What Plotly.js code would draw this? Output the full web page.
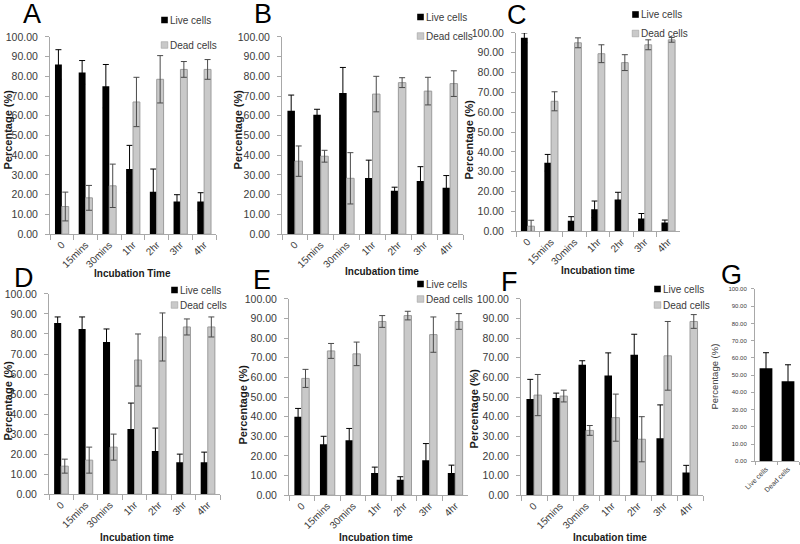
<!DOCTYPE html>
<html><head><meta charset="utf-8">
<script src="https://cdn.plot.ly/plotly-3.0.1.min.js"></script>
<style>html,body{margin:0;padding:0;background:#fff}#chart{width:800px;height:544px}</style>
</head><body><div id="chart"></div>
<script>
// ---------- DATA ----------
const timeLabels = ['0', '15mins', '30mins', '1hr', '2hr', '3hr', '4hr'];
const seriesNames = ['Live cells', 'Dead cells'];

const liveA = [86, 82, 75, 33, 21.5, 16.5, 16.5];
const liveErrA = [7.5, 6, 11, 12, 11.5, 3.5, 4.5];
const deadA = [14, 18.4, 24.5, 67, 78.5, 83.5, 83.5];
const deadErrA = [7.3, 6.3, 11, 12.5, 12, 4, 5];

const liveB = [62.5, 60.5, 71.5, 28.5, 22, 27, 23.5];
const liveErrB = [8, 2.8, 13, 9, 1.8, 7.2, 6.2];
const deadB = [37, 39.5, 28.3, 71, 76.8, 72.5, 76.3];
const deadErrB = [7.7, 3, 13, 9, 2.5, 7, 6.5];

const liveC = [97.5, 34.5, 5.3, 11, 16, 6.4, 4.4];
const liveErrC = [2.5, 4.2, 2, 4.2, 3.6, 2.5, 1.2];
const deadC = [2.5, 65.5, 95, 89.5, 85, 94, 96.5];
const deadErrC = [3, 4.8, 2.5, 4.5, 4, 2.5, 1.2];

const liveD = [85.5, 82.5, 76, 32.5, 21.5, 16, 16];
const liveErrD = [3, 6, 6.5, 13, 11.5, 4, 5];
const deadD = [14, 17, 23.5, 67, 78.5, 83.5, 83.5];
const deadErrD = [3.5, 6.5, 6.5, 13, 12, 4, 5];

const liveE = [40, 26, 28, 11.3, 7.8, 17.8, 11.3];
const liveErrE = [4.2, 4, 6, 3, 1.6, 8.5, 4];
const deadE = [59.5, 73.5, 72, 88.5, 91.5, 81.8, 88.5];
const deadErrE = [4.6, 3.8, 6, 3, 2.2, 9, 4];

const liveF = [49, 49.5, 66.5, 61, 71.5, 29, 11.5];
const liveErrF = [10, 2.5, 2, 11.5, 10.5, 17, 3.7];
const deadF = [51, 50.5, 33, 39.5, 28.5, 71, 88.5];
const deadErrF = [10.5, 3, 2.5, 12, 11.5, 17.5, 3.5];

const gLabels = ['Live cells', 'Dead cells'];
const gValues = [54, 46.5];
const gErrors = [9, 9.5];

const panelLetters = ['A', 'B', 'C', 'D', 'E', 'F', 'G'];
const xTitles = ['Incubation Time', 'Incubation time', 'Incubation time', 'Incubation time', 'Incubation time', 'Incubation time'];
const yTitle = 'Percentage (%)';

// ---------- STYLE / GEOMETRY ----------
const W = 800, H = 544;
const FONT = 'Liberation Sans, Arial, sans-serif';
const AXIS_COLOR = '#a8a8a8';
const TEXT_COLOR = '#3a3a3a';
const TITLE_COLOR = '#1a1a1a';
const LIVE_COLOR = '#000000';
const DEAD_COLOR = '#c9c9c9';
const DEAD_EDGE = '#9c9c9c';
const DEAD_ERR = '#4a4a4a';

// plot-area boxes in px: [left, right, top(=100), bottom(=0)]
const boxes = [
  [50, 216, 35, 233],
  [282, 463, 35, 233],
  [516, 680, 31, 230],
  [49, 220, 293, 494],
  [289, 468, 298, 495],
  [521, 703, 298, 495],
  [755, 799, 288, 461]
];
// legend: [text-left px, first-row center px, row gap px]
const legendPos = [
  [170, 18, 25], [426, 15, 19], [641, 12, 19],
  [180, 289, 15], [426, 283, 15], [663, 288, 16]
];
const letterPos = [[32, 12], [263, 12], [517, 13], [24, 277], [262, 279], [510, 281], [731, 274]];
const yTitlePos = [[8, 128], [238, 128], [469, 138], [8, 400], [243, 404], [473, 408], [715, 376]];
const xTitlePos = [[132, 272], [382, 270], [598, 269], [137, 537], [376, 537], [610, 537]];

const panels = [
  [liveA, liveErrA, deadA, deadErrA],
  [liveB, liveErrB, deadB, deadErrB],
  [liveC, liveErrC, deadC, deadErrC],
  [liveD, liveErrD, deadD, deadErrD],
  [liveE, liveErrE, deadE, deadErrE],
  [liveF, liveErrF, deadF, deadErrF]
];

const traces = [];
const layout = {
  width: W, height: H,
  margin: {l: 0, r: 0, t: 0, b: 0},
  paper_bgcolor: '#fff', plot_bgcolor: 'rgba(0,0,0,0)',
  barmode: 'group', bargap: 0.42, bargroupgap: 0,
  font: {family: FONT, color: TEXT_COLOR},
  annotations: []
};

function suffix(i) { return i === 0 ? '' : String(i + 1); }
function px(x) { return x / W; }
function py(y) { return 1 - y / H; }

function yAxis(i, b, small) {
  return {
    domain: [py(b[3]), py(b[2])],
    anchor: 'x' + suffix(i),
    range: [0, 100], tick0: 0, dtick: 10, tickformat: '.2f',
    showline: true, linecolor: AXIS_COLOR, linewidth: 1,
    ticks: 'outside', ticklen: small ? 3 : 4, tickcolor: AXIS_COLOR,
    ticklabelstandoff: small ? 3 : 5,
    tickfont: {family: FONT, size: small ? 6 : 10.5, color: TEXT_COLOR},
    showgrid: false, zeroline: false, fixedrange: true
  };
}
function xAxis(i, b, small) {
  return {
    domain: [px(b[0]), px(b[1])],
    anchor: 'y' + suffix(i),
    type: 'category',
    showline: true, linecolor: AXIS_COLOR, linewidth: 1,
    ticks: 'outside', tickson: 'boundaries', ticklen: small ? 3 : 5, tickcolor: AXIS_COLOR,
    tickangle: -45,
    tickfont: {family: FONT, size: small ? 7 : 10, color: TEXT_COLOR},
    showgrid: false, zeroline: false, fixedrange: true
  };
}
function titleAnn(text, pos, angle, size, bold) {
  return {
    text: text, xref: 'paper', yref: 'paper', x: px(pos[0]), y: py(pos[1]),
    textangle: angle, showarrow: false, xanchor: 'center', yanchor: 'middle',
    font: {family: FONT, size: size, weight: bold ? 'bold' : 'normal', color: bold ? TITLE_COLOR : TEXT_COLOR}
  };
}

panels.forEach((p, i) => {
  const s = suffix(i);
  const b = boxes[i];
  traces.push({
    type: 'bar', name: seriesNames[0], x: timeLabels, y: p[0],
    xaxis: 'x' + s, yaxis: 'y' + s, legend: 'legend' + s, legendgroup: 'live' + i,
    marker: {color: LIVE_COLOR, line: {width: 0}},
    error_y: {type: 'data', array: p[1], visible: true, color: '#000', thickness: 1, width: 3},
    hoverinfo: 'skip'
  });
  traces.push({
    type: 'bar', name: seriesNames[1], x: timeLabels, y: p[2],
    xaxis: 'x' + s, yaxis: 'y' + s, legend: 'legend' + s, legendgroup: 'dead' + i,
    marker: {color: DEAD_COLOR, line: {color: DEAD_EDGE, width: 1}},
    error_y: {type: 'data', array: p[3], visible: true, color: DEAD_ERR, thickness: 1, width: 3},
    hoverinfo: 'skip'
  });
  layout['xaxis' + s] = xAxis(i, b, false);
  layout['yaxis' + s] = yAxis(i, b, false);
  layout.annotations.push(titleAnn(xTitles[i], xTitlePos[i], 0, 10, true));
  layout.annotations.push(titleAnn(yTitle, yTitlePos[i], -90, 11, true));
  const lp = legendPos[i];
  layout['legend' + s] = {
    x: px(lp[0] - 40), y: py(lp[1] - 14.5), xanchor: 'left', yanchor: 'top',
    bgcolor: 'rgba(0,0,0,0)', borderwidth: 0,
    font: {family: FONT, size: 10, color: TEXT_COLOR},
    tracegroupgap: 0, itemwidth: 30, traceorder: 'grouped'
  };
});

// panel G
traces.push({
  type: 'bar', name: 'G', x: gLabels, y: gValues, xaxis: 'x7', yaxis: 'y7', showlegend: false,
  marker: {color: LIVE_COLOR},
  error_y: {type: 'data', array: gErrors, visible: true, color: '#000', thickness: 1, width: 3},
  hoverinfo: 'skip'
});
layout.xaxis7 = xAxis(6, boxes[6], true);
layout.yaxis7 = yAxis(6, boxes[6], true);
layout.annotations.push(titleAnn(yTitle, yTitlePos[6], -90, 9.5, false));

panelLetters.forEach((L, i) => {
  layout.annotations.push({
    text: L, xref: 'paper', yref: 'paper', x: px(letterPos[i][0]), y: py(letterPos[i][1]),
    showarrow: false, xanchor: 'center', yanchor: 'middle',
    font: {family: FONT, size: 27, color: '#000'}
  });
});

function rectCenter(r) { return [(r.left + r.right) / 2, (r.top + r.bottom) / 2]; }

// Excel-style legend keys: small squares just left of the label (idempotent)
function shrinkKey(text, path) {
  if (!path.hasAttribute('data-orig-tf')) path.setAttribute('data-orig-tf', path.getAttribute('transform') || '');
  const prev = path.getAttribute('data-orig-tf');
  if (prev) path.setAttribute('transform', prev); else path.removeAttribute('transform');
  const tr = text.getBoundingClientRect();
  const pr = path.getBoundingClientRect();
  const bb = path.getBBox();
  let cx = bb.x + bb.width / 2, cy = bb.y + bb.height / 2;
  const cons = path.transform.baseVal.consolidate();
  if (cons) {
    const mm = cons.matrix;
    const nx = mm.a * cx + mm.c * cy + mm.e, ny = mm.b * cx + mm.d * cy + mm.f;
    cx = nx; cy = ny;
  }
  const dx = (tr.left - 5.5) - rectCenter(pr)[0];
  path.setAttribute('transform',
    'translate(' + (cx + dx) + ',' + cy + ') scale(0.55) translate(' + (-cx) + ',' + (-cy) + ') ' + prev);
}

function tidyLegends() {
  const gd = document.getElementById('chart');
  const entries = Array.from(gd.querySelectorAll('g.traces'))
    .map(item => ({item: item, text: item.querySelector('text'), path: item.querySelector('.legendpoints path')}))
    .filter(e => e.text && e.path);
  const groups = legendPos.map(() => []);
  entries.forEach(e => {
    const r = e.text.getBoundingClientRect();
    let best = 0, bestD = Infinity;
    legendPos.forEach((lp, k) => {
      const d = Math.abs(r.left - lp[0]) + Math.abs(rectCenter(r)[1] - lp[1]) * 0.5;
      if (d < bestD) { bestD = d; best = k; }
    });
    groups[best].push(e);
  });
  groups.forEach((g, k) => {
    g.sort((a, b) => a.text.getBoundingClientRect().top - b.text.getBoundingClientRect().top);
    if (g.length > 1) {
      const c0 = rectCenter(g[0].text.getBoundingClientRect())[1];
      const c1 = rectCenter(g[1].text.getBoundingClientRect())[1];
      const delta = (c0 + legendPos[k][2]) - c1;
      if (Math.abs(delta) > 0.3) {
        const tf = g[1].item.getAttribute('transform') || '';
        g[1].item.setAttribute('transform', tf + ' translate(0,' + delta + ')');
      }
    }
    g.forEach(e => shrinkKey(e.text, e.path));
  });
}
function safeTidy() { try { tidyLegends(); } catch (err) { /* keep default legends */ } }

Plotly.newPlot('chart', traces, layout, {staticPlot: true, displayModeBar: false}).then(gd => {
  safeTidy();
  gd.on('plotly_afterplot', safeTidy);
  setTimeout(safeTidy, 30);
});
</script></body></html>
